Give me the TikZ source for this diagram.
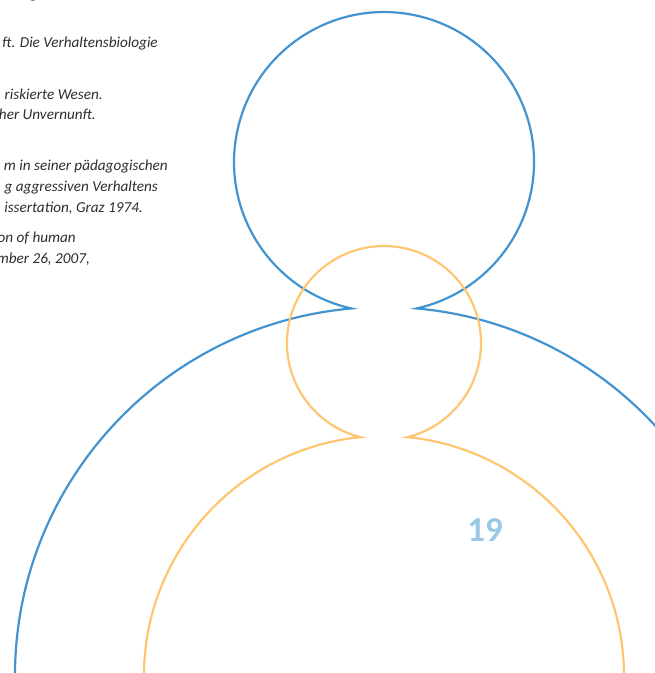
\documentclass[tikz,border=0pt]{standalone}
\usepackage{fontspec}
\setmainfont{Carlito}
\definecolor{ringblue}{HTML}{4393D1}
\definecolor{ringorange}{HTML}{FFC671}
\definecolor{pageblue}{HTML}{9CC8E8}
\definecolor{reftext}{HTML}{2E2E2E}
\begin{document}
\begin{tikzpicture}[x=1pt,y=1pt,
  ring/.style={line width=2.2pt},
  ref/.style={font=\fontsize{15.2}{18}\selectfont\itshape, text=reftext, inner sep=0pt, anchor=base east}]
\useasboundingbox (0,0) rectangle (655,673);
\clip (0,0) rectangle (655,673);
% blue outline: big circle, small head circle
\draw[ring, ringblue] (384,-3) ++(185:369) arc[start angle=185, end angle=95.06, radius=369]
  arc[start angle=257.46, end angle=-77.46, radius=150]
  arc[start angle=84.94, end angle=-5, radius=369];
% orange outline
\draw[ring, ringorange] (384,-3) ++(185:240) arc[start angle=185, end angle=95.6, radius=240]
  arc[start angle=256.04, end angle=-76.04, radius=97]
  arc[start angle=84.4, end angle=-5, radius=240];
% page number
\node[font=\fontsize{35}{40}\selectfont\bfseries, text=pageblue, inner sep=0pt] (page) at (485,143) {19};
% reference fragments
\node[ref, anchor=base west] (r0) at (30,674) {g};
\node[ref] (r1) at (158,673-48) {ft. Die Verhaltensbiologie};
\node[ref] (r2) at (103,673-100) {riskierte Wesen.};
\node[ref] (r3) at (96,673-120) {her Unvernunft.};
\node[ref] (r4) at (168,673-171) {m in seiner pädagogischen};
\node[ref] (r5) at (158,673-192) {g aggressiven Verhaltens};
\node[ref] (r6) at (143,673-213) {issertation, Graz 1974.};
\node[ref] (r7) at (76,673-243) {on of human};
\node[ref] (r8) at (90,673-264) {mber 26, 2007,};
\end{tikzpicture}
\end{document}
